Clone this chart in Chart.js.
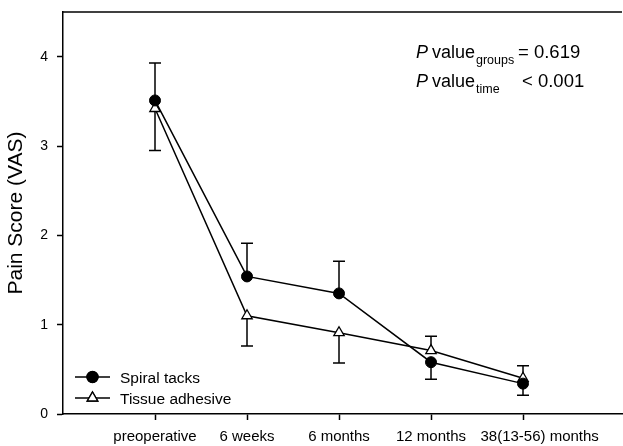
<!DOCTYPE html>
<html>
<head>
<meta charset="utf-8">
<script src="https://cdn.jsdelivr.net/npm/chart.js@4/dist/chart.umd.min.js"></script>
<style>
  html, body { margin: 0; padding: 0; background: #fff; }
  #wrap { width: 623px; height: 446px; }
</style>
</head>
<body>
<div id="wrap"><canvas id="c" width="623" height="446"></canvas></div>
<script>
// Time points and mean VAS pain scores per group
const categories = ['preoperative', '6 weeks', '6 months', '12 months', '38(13-56) months'];
const spiralTacks = [3.51, 1.54, 1.35, 0.58, 0.34];
const spiralTacksErr = [0.42, 0.37, 0.36, 0.19, 0.13];
const tissueAdhesive = [3.42, 1.10, 0.91, 0.71, 0.40];
const tissueAdhesiveErr = [0.47, 0.34, 0.34, 0.16, 0.14];
const yTicks = [0, 1, 2, 3, 4];
const pValueRows = [
  { sub: 'groups', text: '= 0.619' },
  { sub: 'time', text: '< 0.001' }
];

const FONT = '"Liberation Sans", Arial, sans-serif';

const toPoints = arr => arr.map((v, i) => ({ x: i + 1, y: v }));

// keep the plot area fixed regardless of tick label overhang
const noScalePadding = s => {
  s.paddingLeft = 0; s.paddingRight = 0; s.paddingTop = 0; s.paddingBottom = 0;
};

// the long last label is nudged right so it clears its neighbour
const xTickLabel = v => (v === categories.length ? ' '.repeat(8) : '') + categories[v - 1];

// Error bars point away from the other group's mean
const errorBars = {
  id: 'errorBars',
  beforeDatasetsDraw(chart) {
    const { ctx, scales: { x, y } } = chart;
    const errs = [spiralTacksErr, tissueAdhesiveErr];
    const vals = [spiralTacks, tissueAdhesive];
    ctx.save();
    ctx.strokeStyle = '#000';
    ctx.lineWidth = 1.5;
    for (let d = 0; d < 2; d++) {
      const other = vals[1 - d];
      vals[d].forEach((v, i) => {
        const dir = v >= other[i] ? 1 : -1;
        const px = x.getPixelForValue(i + 1);
        const y0 = y.getPixelForValue(v);
        const y1 = y.getPixelForValue(v + dir * errs[d][i]);
        ctx.beginPath();
        ctx.moveTo(px, y0);
        ctx.lineTo(px, y1);
        ctx.moveTo(px - 6, y1);
        ctx.lineTo(px + 6, y1);
        ctx.stroke();
      });
    }
    ctx.restore();
  }
};

// Top frame line, legend and P-value annotation
const decorations = {
  id: 'decorations',
  afterDraw(chart) {
    const { ctx, chartArea: a } = chart;
    ctx.save();
    ctx.strokeStyle = '#000';
    ctx.lineWidth = 1.5;
    ctx.beginPath();
    ctx.moveTo(a.left, a.top);
    ctx.lineTo(a.right, a.top);
    ctx.stroke();

    // legend
    const rows = [
      { y: 377, ds: chart.data.datasets[0] },
      { y: 398, ds: chart.data.datasets[1] }
    ];
    rows.forEach(r => {
      ctx.strokeStyle = '#000';
      ctx.lineWidth = 1.5;
      ctx.beginPath();
      ctx.moveTo(75, r.y);
      ctx.lineTo(110, r.y);
      ctx.stroke();
      Chart.helpers.drawPoint(ctx, {
        pointStyle: r.ds.pointStyle,
        radius: r.ds.pointRadius,
        borderWidth: r.ds.pointBorderWidth,
        rotation: 0
      }, 92.5, r.y);
      ctx.fillStyle = r.ds.pointBackgroundColor;
      ctx.strokeStyle = '#000';
      ctx.lineWidth = r.ds.pointBorderWidth;
      ctx.fill();
      ctx.stroke();
      ctx.fillStyle = '#000';
      ctx.font = '15.5px ' + FONT;
      ctx.textBaseline = 'alphabetic';
      ctx.textAlign = 'left';
      ctx.fillText(r.ds.label, 120, r.y + 6);
    });

    // P values
    const baselines = [58, 87];
    const valueX = [518, 522];
    pValueRows.forEach((row, k) => {
      const by = baselines[k];
      ctx.fillStyle = '#000';
      ctx.textAlign = 'left';
      ctx.font = 'italic 18px ' + FONT;
      ctx.fillText('P', 416, by);
      ctx.font = '18px ' + FONT;
      ctx.fillText('value', 432, by);
      ctx.font = '12.5px ' + FONT;
      ctx.fillText(row.sub, 476, by + 6);
      ctx.font = '18.5px ' + FONT;
      ctx.fillText(row.text, valueX[k], by);
    });
    ctx.restore();
  }
};

new Chart(document.getElementById('c'), {
  type: 'line',
  data: {
    datasets: [
      {
        label: 'Spiral tacks',
        data: toPoints(spiralTacks),
        borderColor: '#000',
        borderWidth: 1.5,
        pointStyle: 'circle',
        pointRadius: 5.5,
        pointBackgroundColor: '#000',
        pointBorderColor: '#000',
        pointBorderWidth: 1,
        tension: 0,
        clip: false
      },
      {
        label: 'Tissue adhesive',
        data: toPoints(tissueAdhesive),
        borderColor: '#000',
        borderWidth: 1.5,
        pointStyle: 'triangle',
        pointRadius: 6,
        pointBackgroundColor: '#fff',
        pointBorderColor: '#000',
        pointBorderWidth: 1.3,
        tension: 0,
        clip: false
      }
    ]
  },
  options: {
    responsive: false,
    animation: false,
    devicePixelRatio: 1,
    layout: { autoPadding: false, padding: { left: 4, top: 12, right: 1, bottom: 0 } },
    plugins: { legend: { display: false }, tooltip: { enabled: false } },
    scales: {
      x: {
        type: 'linear',
        min: 0,
        max: 6.076,
        afterBuildTicks: s => { s.ticks = categories.map((c, i) => ({ value: i + 1 })); },
        afterFit: s => { s.height = 32; noScalePadding(s); },
        ticks: {
          callback: xTickLabel,
          font: { family: FONT, size: 15 },
          color: '#000',
          padding: 8,
          maxRotation: 0,
          autoSkip: false
        },
        grid: { drawOnChartArea: false, drawTicks: true, tickLength: 6, tickWidth: 1.5, tickColor: '#000' },
        border: { display: true, color: '#000', width: 1.5 }
      },
      y: {
        type: 'linear',
        min: 0,
        max: 4.5,
        afterBuildTicks: s => { s.ticks = yTicks.map(v => ({ value: v })); },
        afterFit: s => { s.width = 59; noScalePadding(s); },
        ticks: {
          font: { family: FONT, size: 14 },
          color: '#000',
          padding: 9
        },
        grid: { drawOnChartArea: false, drawTicks: true, tickLength: 6, tickWidth: 1.5, tickColor: '#000' },
        border: { display: true, color: '#000', width: 1.5 },
        title: {
          display: true,
          text: 'Pain Score (VAS)',
          font: { family: FONT, size: 21 },
          color: '#000',
          padding: 0
        }
      }
    }
  },
  plugins: [errorBars, decorations]
});
</script>
</body>
</html>
